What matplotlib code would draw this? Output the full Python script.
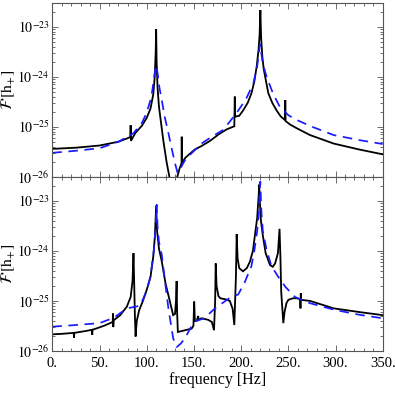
import numpy as np
import matplotlib
matplotlib.use("Agg")
import matplotlib.pyplot as plt
from matplotlib.ticker import FixedLocator, LogLocator, FuncFormatter, NullFormatter

# Fourier amplitude, two panels
# Top panel: black solid curve
top_black_f = [0, 25, 50, 70, 80, 82.6, 83.0, 83.3, 88, 95, 100, 104, 107, 108.5, 109.5, 110,
               110.5, 111.5, 113, 117.6, 121, 124, 128, 131, 135, 136.9, 137.1, 137.4, 141, 145,
               151, 158, 167, 177, 185, 192.8, 193.3, 193.7, 194.3, 198, 202, 207, 211, 214,
               216.5, 218.5, 219.6, 220.4, 221.2, 222.5, 224, 228.8, 233, 237.7, 242, 246.5,
               246.8, 247.1, 252, 259, 273, 298, 325, 350]
top_black_v = [3.6e-26, 3.8e-26, 4.2e-26, 5.0e-26, 5.9e-26, 6.2e-26, 1.07e-25, 5.2e-26, 7.5e-26,
               1.05e-25, 1.5e-25, 2.3e-25, 4.5e-25, 1.0e-24, 3.0e-24, 8.9e-24,
               2.0e-24, 6.0e-25, 2.5e-25, 5.3e-26, 2.0e-26, 1.0e-26, 1.0e-27, 8.0e-27, 1.5e-26,
               1.86e-26, 6.3e-26, 1.9e-26, 2.4e-26, 2.8e-26,
               3.5e-26, 4.1e-26, 5.2e-26, 7.2e-26, 8.9e-26, 1.02e-25, 4.0e-25, 1.6e-25, 1.6e-25,
               1.65e-25, 2.1e-25, 3.0e-25, 4.7e-25, 8.0e-25,
               1.6e-24, 3.5e-24, 7.0e-24, 2.15e-23, 6.0e-24, 2.5e-24, 1.4e-24, 4.7e-25, 3.0e-25,
               2.1e-25, 1.6e-25, 1.36e-25,
               3.4e-25, 1.3e-25, 1.1e-25, 9.3e-26, 6.8e-26, 4.6e-26, 3.5e-26, 2.8e-26]

# Top panel: blue dashed curve
top_blue_f = [0, 25, 50, 70, 86, 95, 100, 105, 108.8, 110, 111.5, 113.5, 116, 119, 123, 127,
              130, 132.8, 136, 140.6, 148, 158, 170, 181, 195, 205, 213, 217, 220, 223, 227,
              234, 241, 250, 259, 275, 298, 325, 350]
top_blue_v = [3.0e-26, 3.3e-26, 3.7e-26, 5.0e-26, 7.4e-26, 1.2e-25, 1.9e-25, 4.0e-25, 1.3e-24,
              1.7e-24, 1.2e-24, 6.0e-25, 3.4e-25, 1.6e-25, 7.4e-26, 3.3e-26,
              1.85e-26, 1.17e-26, 1.5e-26, 2.15e-26, 3.0e-26, 4.6e-26, 6.5e-26, 8.6e-26,
              1.86e-25, 3.5e-25, 7.4e-25, 1.6e-24, 4.5e-24, 1.8e-24, 1.0e-24,
              4.5e-25, 2.5e-25, 1.7e-25, 1.36e-25, 1.0e-25, 6.8e-26, 5.4e-26, 4.5e-26]

# Bottom panel: black solid curve
bot_black_f = [0, 10, 22.7, 23.0, 23.3, 35, 42.0, 42.3, 42.6, 55, 64.0, 64.3, 64.6, 65, 72, 79,
               83, 85, 86, 86.6, 87.5, 88.2, 89.5, 92, 96, 100, 104, 107, 108.7, 110, 111,
               113, 116, 120, 123, 128, 130, 131, 131.7, 132.2, 133, 137, 147.6, 149.5, 150.3,
               151, 153, 154.5, 155, 158, 165, 169, 171.3, 172.5, 173.1, 174, 176, 178, 184,
               188, 191, 192.8, 194.5, 195.3, 196.3, 198, 202, 206, 209.4, 212.5, 214.7, 217,
               218.5, 219.2, 219.8, 221, 222.9, 226, 230.6, 233.5, 236, 239, 240.7, 241.6,
               242.5, 244.7, 246, 248, 250, 255, 259, 262.6, 262.9, 263.2, 263.5, 273, 298,
               325, 350]
bot_black_v = [2.15e-26, 2.2e-26, 2.3e-26, 1.85e-26, 2.3e-26, 2.5e-26, 2.65e-26, 2.1e-26,
               2.65e-26, 3.2e-26, 3.8e-26, 5.6e-26, 3.0e-26, 4.1e-26, 5.2e-26, 7.7e-26,
               1.2e-25, 2.5e-25, 9.0e-25, 3.0e-25, 5.0e-26, 1.95e-26, 4.0e-26, 6.5e-26, 1.0e-25,
               1.66e-25, 3.0e-25, 7.8e-25, 2.0e-24, 8.0e-24, 2.5e-24,
               1.1e-24, 6.1e-25, 2.2e-25, 1.3e-25, 5.2e-26, 5.5e-26, 1.0e-25, 2.5e-25, 6.0e-26,
               2.4e-26, 2.5e-26, 2.8e-26, 3.2e-26, 9.7e-26,
               4.0e-26, 4.0e-26, 5.0e-26, 4.2e-26, 4.5e-26, 4.2e-26, 3.8e-26, 2.6e-26, 1.0e-25,
               5.6e-25, 2.0e-25, 1.25e-25, 1.13e-25, 1.07e-25,
               1.0e-25, 7.0e-26, 3.3e-26, 3.0e-25, 2.15e-24, 7.0e-25, 4.5e-25, 3.9e-25, 4.5e-25,
               6.1e-25, 1.0e-24, 2.1e-24, 4.5e-24,
               1.2e-23, 2.1e-23, 1.0e-23, 4.0e-24, 2.1e-24, 9.0e-25, 5.2e-25, 4.8e-25, 5.6e-25,
               9.0e-25, 2.75e-24, 8.0e-25,
               1.5e-25, 3.6e-26, 6.0e-26, 9.0e-26, 1.05e-25, 1.13e-25, 1.13e-25, 1.08e-25,
               7.1e-26, 1.42e-25, 1.05e-25, 1.0e-25, 7.1e-26,
               6.0e-26, 5.2e-26]

# Bottom panel: blue dashed curve
bot_blue_f = [0, 25, 50, 65, 79, 93, 100, 104, 107.5, 109.5, 110.6, 111.5, 113, 116, 119, 123,
              128, 131.8, 136, 140.6, 146, 151, 161, 172, 180, 188, 197, 204, 211, 214, 217,
              218.5, 220.3, 221.5, 223, 227, 232, 239, 247, 257, 273, 299.5, 325, 350]
bot_blue_v = [3.06e-26, 3.3e-26, 3.6e-26, 4.6e-26, 7.1e-26, 8.0e-26, 1.6e-25, 3.1e-25, 1.0e-24,
              3.0e-24, 8.3e-24, 3.0e-24, 1.5e-24, 8.3e-25, 2.8e-25, 7.1e-26,
              1.8e-26, 1.2e-26, 1.4e-26, 1.8e-26, 2.8e-26, 3.9e-26, 4.5e-26, 7.0e-26, 9.0e-26,
              1.15e-25, 1.35e-25, 2.4e-25, 5.0e-25, 1.0e-24, 2.5e-24,
              5.0e-24, 2.4e-23, 6.0e-24, 2.5e-24, 1.05e-24, 5.0e-25, 3.1e-25, 1.9e-25, 1.2e-25,
              9.0e-26, 6.6e-26, 5.3e-26, 4.5e-26]

x_ticks = [0, 50, 100, 150, 200, 250, 300, 350]
y_ticks = [1e-26, 1e-25, 1e-24, 1e-23]
y_tick_labels = ["$10^{-26}$", "$10^{-25}$", "$10^{-24}$", "$10^{-23}$"]

plt.rcParams["font.family"] = ["Liberation Serif", "DejaVu Serif"]
plt.rcParams["mathtext.fontset"] = "stix"

frame_color = "#555555"

fig = plt.figure(figsize=(3.95, 3.95), dpi=100)
ax_top = fig.add_axes([0.1324, 0.5527, 0.8365, 0.4397])
ax_bot = fig.add_axes([0.1324, 0.1114, 0.8365, 0.4405])

panels = [
    (ax_top, top_black_f, top_black_v, top_blue_f, top_blue_v),
    (ax_bot, bot_black_f, bot_black_v, bot_blue_f, bot_blue_v),
]

for ax, bf, bv, uf, uv in panels:
    ax.plot(bf, bv, color="black", lw=1.3, solid_joinstyle="miter")
    ax.plot(uf, uv, color="#1a1aff", lw=1.25, dashes=(5.5, 3.8))

    ax.set_yscale("log")
    ax.set_xlim(0, 350)
    ax.set_ylim(1e-26, 2.98e-23)

    ax.xaxis.set_major_locator(FixedLocator(x_ticks))
    ax.xaxis.set_minor_locator(FixedLocator(np.arange(0, 351, 10)))
    ax.yaxis.set_major_locator(FixedLocator(y_ticks))
    ax.yaxis.set_minor_locator(LogLocator(base=10, subs=np.arange(2, 10)))
    ax.yaxis.set_minor_formatter(NullFormatter())
    ax.set_yticklabels(y_tick_labels)

    ax.tick_params(which="both", direction="in", top=True, right=True,
                   color=frame_color, width=0.6)
    ax.tick_params(which="major", length=4.5, labelsize=10, pad=2)
    ax.tick_params(which="minor", length=2.3)
    ax.tick_params(axis="x", which="major", pad=4.5, labelsize=10.5)
    for sp in ax.spines.values():
        sp.set_color(frame_color)
        sp.set_linewidth(0.8)

    ax.set_ylabel(r"$\mathcal{F}\,[\mathrm{h}_{+}]$", fontsize=11.5)
    ax.yaxis.set_label_coords(-0.106, 0.5)

ax_top.tick_params(labelbottom=False)
ax_bot.xaxis.set_major_formatter(FuncFormatter(lambda v, p: f"{int(v)}."))
ax_bot.set_xlabel("frequency [Hz]", fontsize=11.5, labelpad=1)

fig.savefig("out.png", dpi=100)
